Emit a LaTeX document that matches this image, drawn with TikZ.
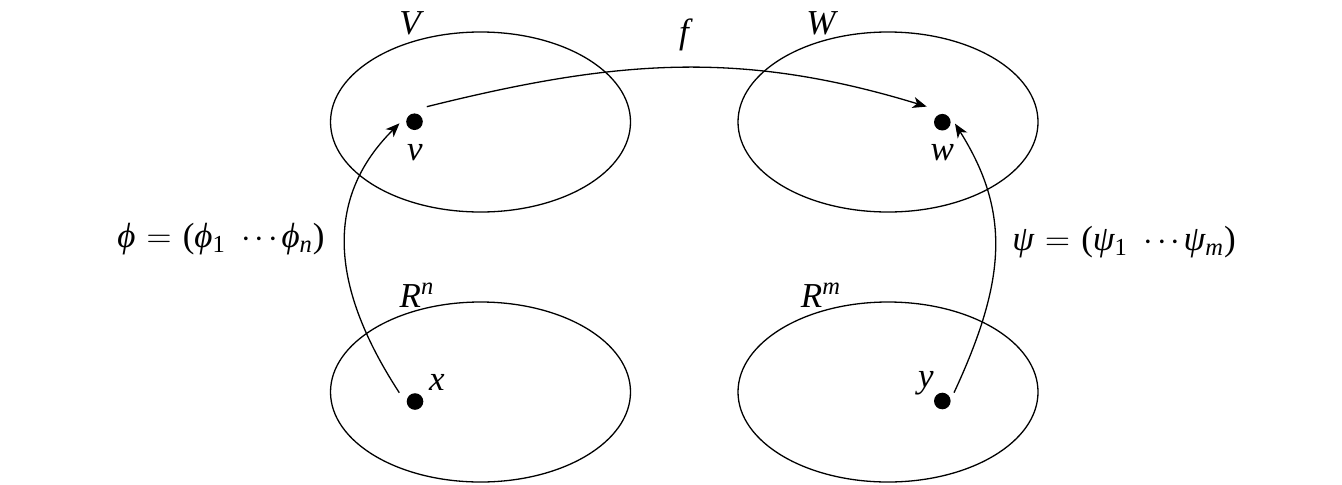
\documentclass[tikz,border=0pt]{standalone}
\usepackage{fontspec}
\setmainfont{Liberation Serif}
\usetikzlibrary{shapes.geometric,arrows.meta}
\tikzset{
  space/.style={draw, ellipse, line width=0.65pt, minimum width=150pt, minimum height=90pt, inner sep=0pt},
  pt/.style={circle, fill, inner sep=0pt, minimum size=8.3pt},
  lbl/.style={inner sep=0pt, font=\fontsize{17.5pt}{20pt}\selectfont\itshape},
  mapar/.style={line width=0.65pt, -{Stealth[length=7pt,width=5.6pt,inset=2pt]}}
}
\newcommand{\gapA}{\hspace{0.32em}}
\newcommand{\eqC}{\gapA{\upshape$=$}\gapA}
\newcommand{\dotsC}{\hspace{0.45em}{\upshape$\cdotp\mkern-1mu\cdotp\mkern-1mu\cdotp$}\hspace{0.1em}}
\begin{document}
\begin{tikzpicture}[x=0.5pt,y=0.5pt]
\useasboundingbox (0,0) rectangle (1342,484);
% spaces
\node[space] (V) at (480.5,362) {};
\node[space] (W) at (888,362) {};
\node[space] (Rn) at (480.5,92) {};
\node[space] (Rm) at (888,92) {};
% points
\node[pt] (v) at (414.5,362.3) {};
\node[pt] (w) at (942.3,361.8) {};
\node[pt] (x) at (415,82.5) {};
\node[pt] (y) at (942.3,83) {};
% labels
\node[lbl] (lV) at (410,461) {V};
\node[lbl] (lW) at (821,461) {W};
\node[lbl] (lf) at (684,449) {f};
\node[lbl] (lv) at (415,331) {v};
\node[lbl] (lw) at (942.3,331) {w};
\node[lbl] (lx) at (437,102) {x};
\node[lbl] (ly) at (926,101) {y};
\node[lbl] (lRn) at (417,189) {R\textsuperscript{n}};
\node[lbl] (lRm) at (821,189) {R\textsuperscript{m}};
\node[lbl] (lphi) at (221,245) {ϕ\eqC{\upshape(}ϕ\textsubscript{\upshape 1}\dotsC ϕ\textsubscript{n}{\upshape)}};
\node[lbl] (lpsi) at (1124,242) {ψ\eqC{\upshape(}ψ\textsubscript{\upshape 1}\dotsC ψ\textsubscript{m}{\upshape)}};
% maps
\draw[mapar] ([shift={(12.3,15)}]v.center) to[out=14,in=163] ([shift={(-15.6,15.6)}]w.center);
\draw[mapar] ([shift={(-15.7,8.8)}]x.center) .. controls +(-73,112) and +(-72,-72) .. ([shift={(-15,-1.6)}]v.center);
\draw[mapar] ([shift={(11.7,8.3)}]y.center) .. controls +(52,112) and +(56,-89) .. ([shift={(12.7,-1.4)}]w.center);
\end{tikzpicture}
\end{document}
